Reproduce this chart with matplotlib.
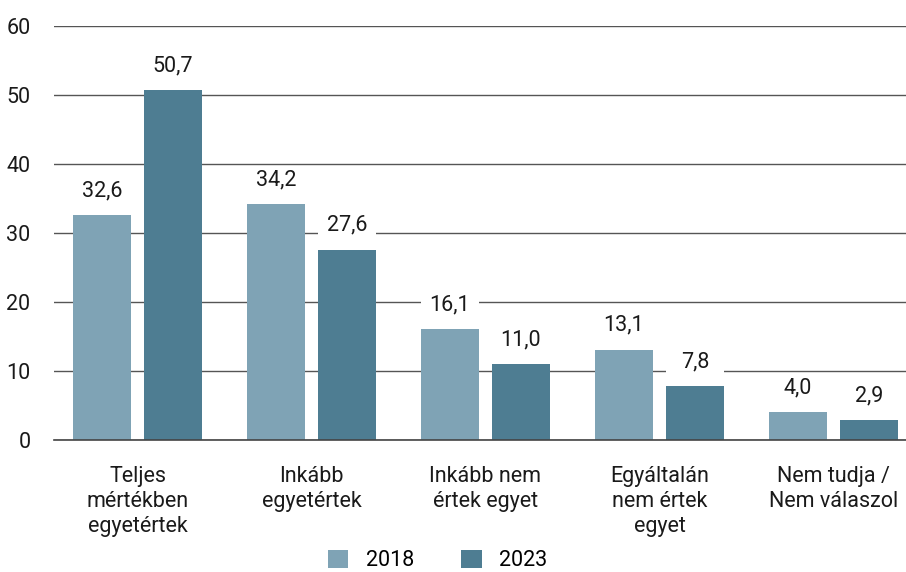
import matplotlib.pyplot as plt
import numpy as np

categories = ["Teljes\nmértékben\negyetértek", "Inkább\negyetértek", "Inkább nem\nértek egyet",
              "Egyáltalán\nnem értek\negyet", "Nem tudja /\nNem válaszol"]
values_2018 = [32.6, 34.2, 16.1, 13.1, 4.0]
values_2023 = [50.7, 27.6, 11.0, 7.8, 2.9]
series = [("2018", values_2018, "#7fa3b5"), ("2023", values_2023, "#4e7d92")]

plt.rcParams['font.family'] = ['Roboto', 'DejaVu Sans']

fig = plt.figure(figsize=(9.06, 5.72), dpi=100)
ax = fig.add_axes([54 / 906, 1 - 440 / 572, 852 / 906, 414 / 572])

x = np.arange(len(categories))
width = 0.333
offsets = [-0.204, 0.204]

for (name, vals, color), off in zip(series, offsets):
    bars = ax.bar(x + off, vals, width, color=color, label=name, zorder=3)
    # white strip behind the value labels so the gridlines break there
    ax.bar(x + off, [5.2] * len(vals), width, bottom=np.array(vals) + 0.3,
           color="white", zorder=1)
    for b, v in zip(bars, vals):
        ax.annotate(f"{v:.1f}".replace(".", ","), (b.get_x() + b.get_width() / 2, v),
                    xytext=(0, 10), textcoords="offset points", ha="center", va="bottom",
                    fontsize=15.5, color="#1a1a1a", zorder=4)

ax.set_ylim(0, 60)
ax.set_xlim(-0.48, 4.417)
ax.set_yticks(range(0, 61, 10))
ax.yaxis.grid(True, color="#555555", linewidth=1, zorder=0)
ax.set_axisbelow(True)
for s in ["top", "right", "left"]:
    ax.spines[s].set_visible(False)
ax.spines["bottom"].set_color("#444444")
ax.spines["bottom"].set_linewidth(1.2)
ax.spines["bottom"].set_zorder(5)

ax.set_xticks(x)
ax.set_xticklabels(categories, fontsize=15.5, color="#1a1a1a", linespacing=1.25)
ax.tick_params(axis="x", length=0, pad=19)
ax.tick_params(axis="y", length=0, labelsize=15.5, labelcolor="#1a1a1a", pad=17)

fig.legend(loc="center", bbox_to_anchor=(0.483, 0.02), ncol=2, frameon=False,
           fontsize=15.5, handlelength=0.95, handleheight=0.95, columnspacing=2.2,
           handletextpad=0.8, borderpad=0)

fig.savefig("out.png", dpi=100)
